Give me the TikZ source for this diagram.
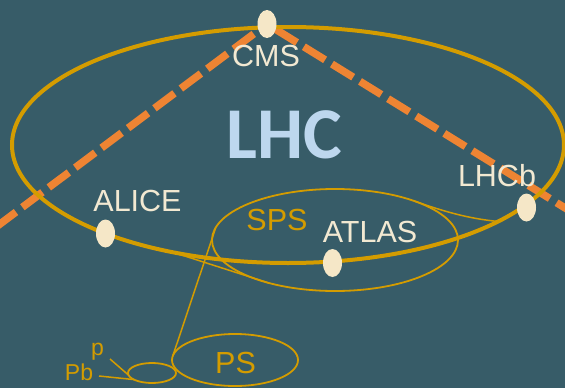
\documentclass[tikz,border=0pt]{standalone}
\usepackage{fontspec}
\setmainfont{Liberation Sans}
\newfontfamily\titlefont{Carlito}
\usetikzlibrary{shapes.geometric}
\definecolor{bg}{HTML}{375C68}
\definecolor{ringgold}{HTML}{D49C00}
\definecolor{beamorange}{HTML}{EE8433}
\definecolor{markfill}{HTML}{F5E7C7}
\definecolor{labelcream}{HTML}{F2E9D2}
\definecolor{titleblue}{HTML}{BDD7EE}
\pgfdeclarelayer{canvas}
\pgfdeclarelayer{beams}
\pgfsetlayers{canvas,beams,main}
\begin{document}
\begin{tikzpicture}[x=1pt,y=-1pt,
  ring/.style={ellipse, draw=ringgold, inner sep=0pt, outer sep=0pt},
  link/.style={draw=ringgold, line width=1.5pt},
  marker/.style={ellipse, fill=markfill, inner sep=0pt, outer sep=0pt,
    minimum width=19pt, minimum height=28pt},
  beam/.style={draw=beamorange, line width=7.5pt, dash pattern=on 25pt off 8pt},
  expt/.style={text=labelcream, inner sep=0pt, anchor=base,
    font=\fontsize{30.5}{36}\selectfont},
  machine/.style={text=ringgold, inner sep=0pt, anchor=base,
    font=\fontsize{30.5}{36}\selectfont},
  source/.style={text=ringgold, inner sep=0pt, anchor=base,
    font=\fontsize{23}{28}\selectfont}]

\begin{pgfonlayer}{canvas}
  \fill[bg] (0,0) rectangle (565,388);
\end{pgfonlayer}
\useasboundingbox (0,0) rectangle (565,388);

% accelerator rings
\node[ring, line width=4pt, minimum width=552pt, minimum height=236pt] (lhc) at (288,145) {};
\node[ring, line width=1.8pt, minimum width=246pt, minimum height=102pt] (sps) at (335,240) {};
\node[ring, line width=1.8pt, minimum width=126pt, minimum height=52pt] (ps) at (235,360) {};
\node[ring, line width=1.8pt, minimum width=48pt, minimum height=20pt] (booster) at (152,373) {};

% transfer lines
\draw[link] (lhc.223.7) -- (sps.213.5);
\draw[link] (sps.26) .. controls +(30,10.6) and +(-30,-3) .. (lhc.340.3);
\draw[link] (ps.176.3) -- (sps.174.8);
\coordinate (pin) at (110,359);
\coordinate (pbin) at (99,376);
\draw[link] (pin) -- (booster.185);
\draw[link] (pbin) -- (booster.200);

% labels
\node[font=\titlefont\bfseries\fontsize{73}{80}\selectfont, text=titleblue,
  inner sep=0pt, anchor=base] (title) at (284,158) {LHC};
\node[expt] (cmslabel) at (266,66) {CMS};
\node[expt] (alicelabel) at (137.5,211) {ALICE};
\node[expt] (atlaslabel) at (370,242) {ATLAS};
\node[expt] (lhcblabel) at (497,186) {LHCb};
\node[machine] (spslabel) at (277,230) {SPS};
\node[machine] (pslabel) at (235.5,373) {PS};
\node[source] (plabel) at (97.5,355) {p};
\node[source] (pblabel) at (79,380) {Pb};

% experiment positions
\node[marker] (cms) at (267,24) {};
\node[marker] (alice) at (105.5,233.5) {};
\node[marker] (atlas) at (332.5,263) {};
\node[marker] (lhcb) at (526.5,207.5) {};

% beam directions
\coordinate (beamW) at (-4,227);
\coordinate (beamE) at (570,211);
\begin{pgfonlayer}{beams}
  \draw[beam] (beamW) -- (cms);
  \draw[beam] (cms) -- (beamE);
\end{pgfonlayer}
\end{tikzpicture}
\end{document}
